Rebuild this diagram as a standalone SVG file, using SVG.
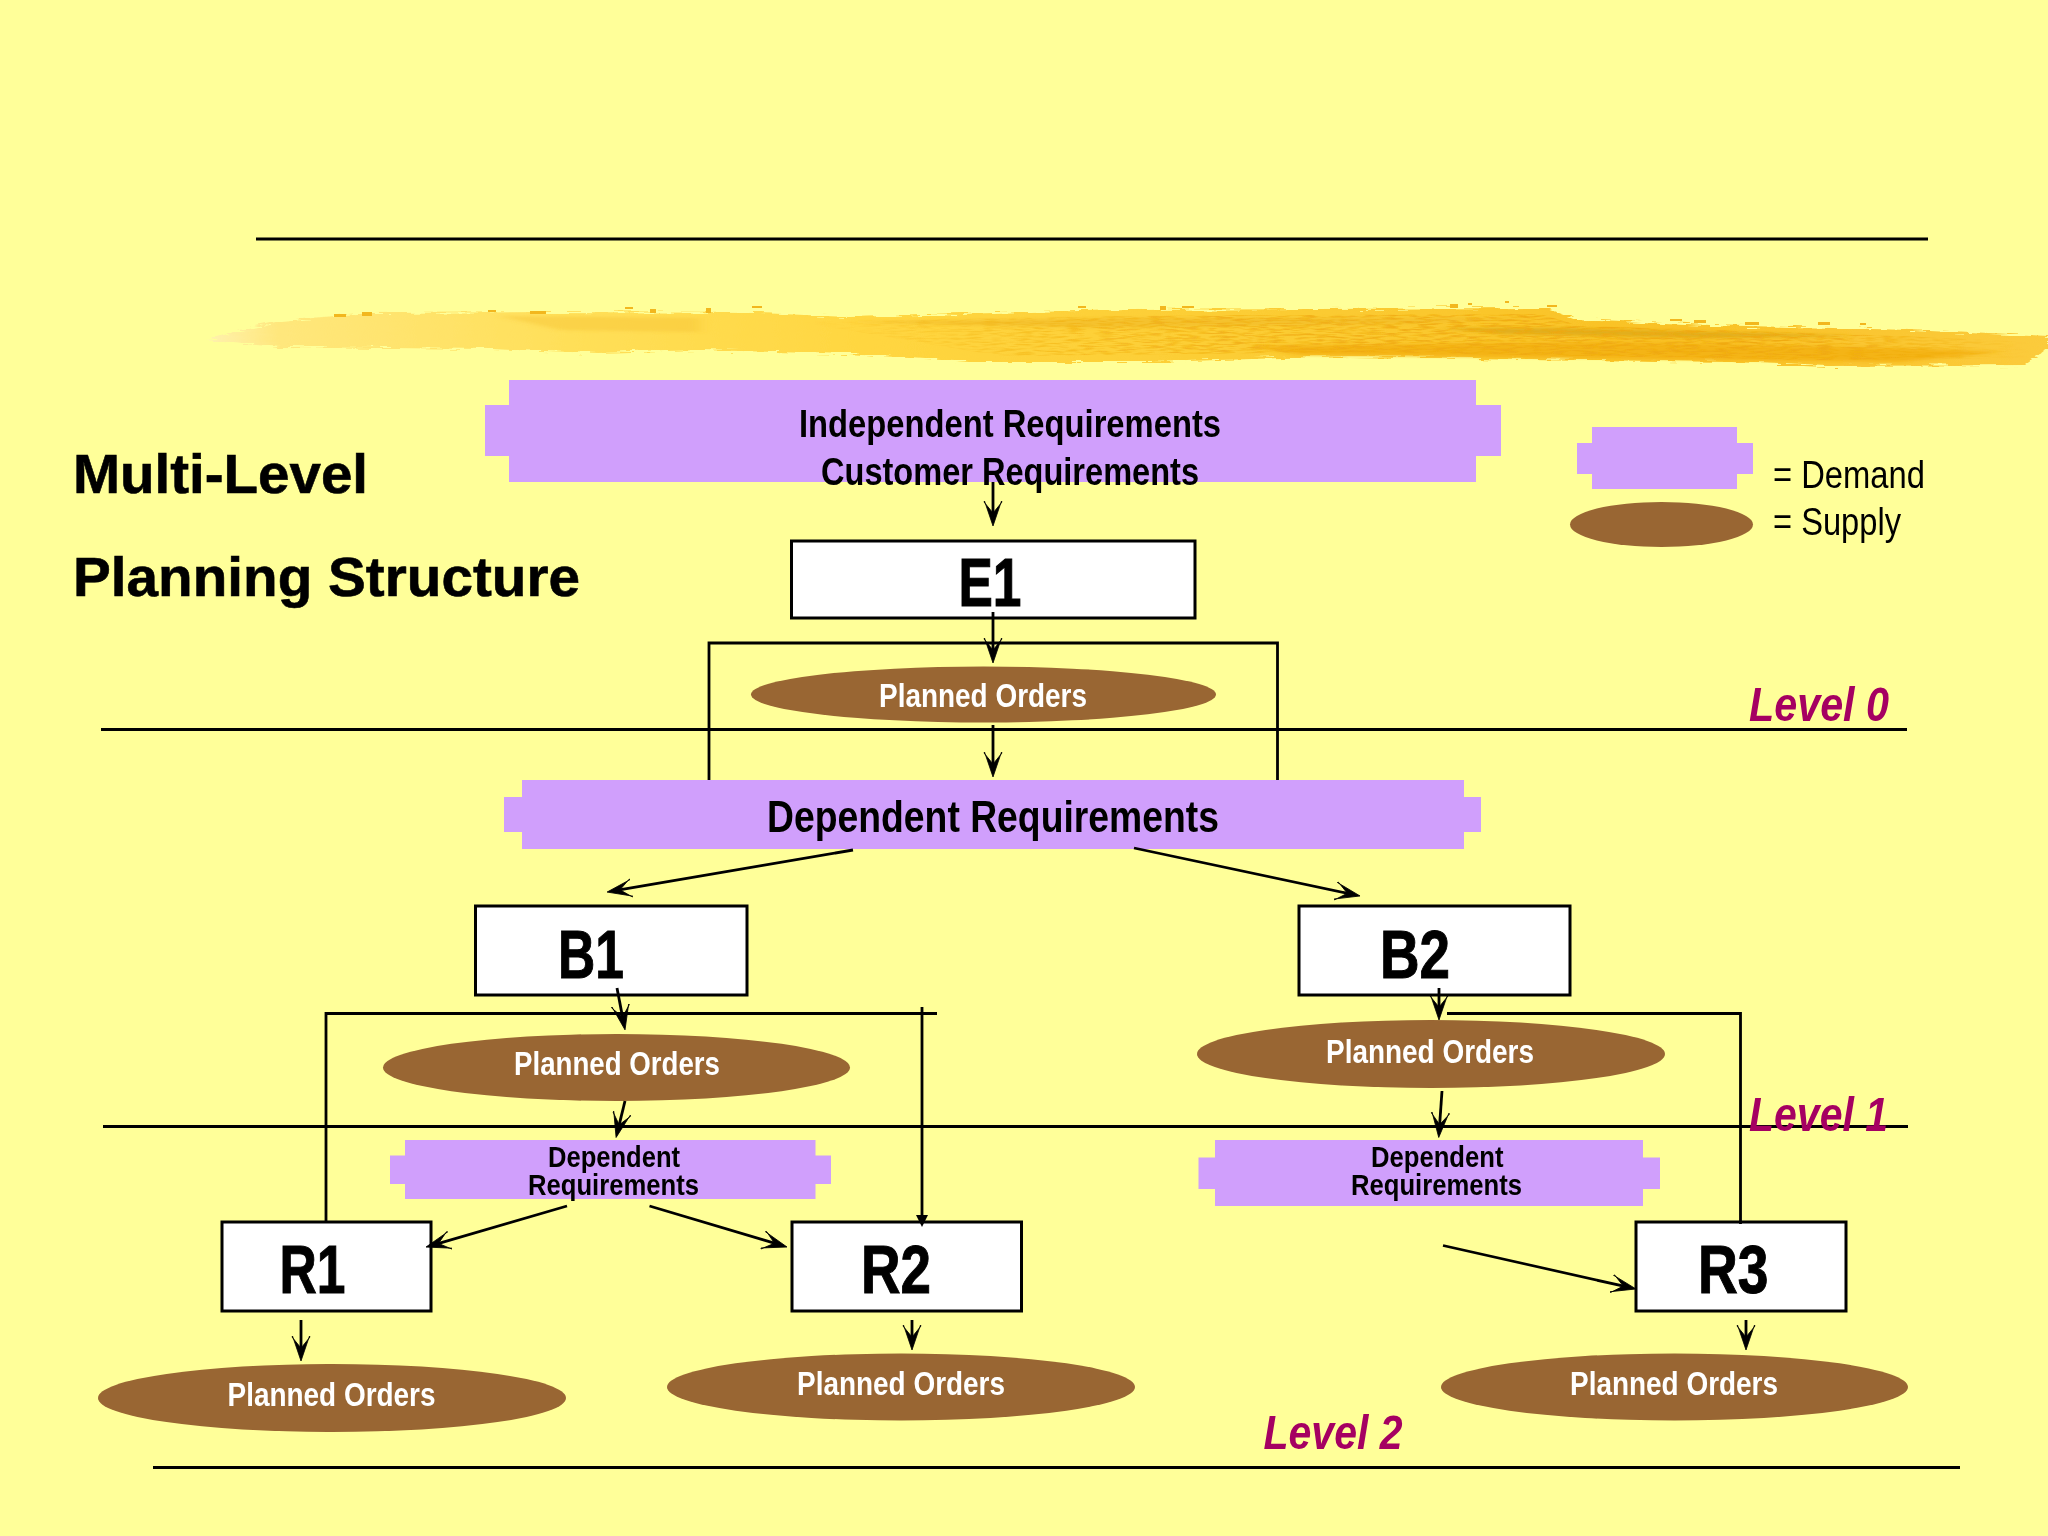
<svg xmlns="http://www.w3.org/2000/svg" width="2048" height="1536" viewBox="0 0 2048 1536">
<style>
text{font-family:"Liberation Sans",Arial,sans-serif;font-weight:700}
.heavy{stroke:#000;stroke-width:.6}
.demand{fill:#D09FFC}
.supply{fill:#996633}
.box{fill:#fff;stroke:#000;stroke-width:3}
.conn{fill:none;stroke:#000;stroke-width:2.8}
.arrow{fill:none;stroke:#000;stroke-width:2.8;marker-end:url(#head)}
.rule{fill:none;stroke:#000;stroke-width:3}
.po{fill:#fff;font-size:33px}
.lvl{fill:#A50062;font-size:48px;font-style:italic}
.code{fill:#000;font-size:68px;stroke:#000;stroke-width:1}
.req{fill:#000;font-size:29px}
</style>
<defs>
<marker id="head" markerUnits="userSpaceOnUse" markerWidth="30" markerHeight="22" refX="17" refY="11" orient="auto"><path d="M25 11L0 2.500L1 2L12 11L1 20L0 19.500Z" fill="#000" stroke="#000" stroke-width=".8"/></marker>
<marker id="tip" markerUnits="userSpaceOnUse" markerWidth="14" markerHeight="14" refX="6" refY="7" orient="auto"><path d="M12 7L0 1L0 13Z" fill="#000"/></marker>
<linearGradient id="brush" x1="0" x2="1" y1="0" y2="0">
<stop offset="0" stop-color="#FFF2B0"/><stop offset=".04" stop-color="#FFE77C"/><stop offset=".2" stop-color="#FFDF58"/><stop offset=".36" stop-color="#FFD640"/><stop offset=".6" stop-color="#FBCB32"/><stop offset=".8" stop-color="#F9C125"/><stop offset="1" stop-color="#FBCB3C"/>
</linearGradient>
<linearGradient id="fleck" x1="0" x2="1" y1="0" y2="0">
<stop offset="0" stop-color="#EFA80E" stop-opacity="0"/><stop offset=".35" stop-color="#EFA80E" stop-opacity=".7"/><stop offset=".8" stop-color="#EFA80E" stop-opacity=".9"/><stop offset="1" stop-color="#EFA80E" stop-opacity="0"/>
</linearGradient>
<filter id="rough" x="-2%" y="-30%" width="104%" height="160%"><feTurbulence type="fractalNoise" baseFrequency="0.04 0.4" numOctaves="3" seed="4"/><feDisplacementMap in="SourceGraphic" scale="9" xChannelSelector="R" yChannelSelector="G"/></filter>
<filter id="soft" x="-2%" y="-50%" width="104%" height="200%"><feGaussianBlur stdDeviation="6 1.5"/></filter>
<filter id="speckle" x="0" y="0" width="100%" height="100%"><feTurbulence type="fractalNoise" baseFrequency="0.06 0.55" numOctaves="2" seed="9" result="n"/><feColorMatrix in="n" type="matrix" values="0 0 0 0 0 0 0 0 0 0 0 0 0 0 0 3.500 0 0 0 -1.500" result="a"/><feComposite in="SourceGraphic" in2="a" operator="in"/></filter>
</defs>
<rect id="background" width="2048" height="1536" fill="#FFFF99"/>
<line class="rule" x1="256" y1="239" x2="1928" y2="239"/>
<g id="brush-stroke">
<path filter="url(#rough)" fill="url(#brush)" d="M205 340L250 328L283 321L334 316L370 313L550 312L760 313L850 317L1029 312L1130 310L1547 308L1576 319L1708 325L1911 330L2048 337V348L2025 365L1828 366L1732 362L1588 360L1349 356L1152 362L969 362L849 354L700 350L598 353L490 349L280 347L232 343Z"/>
<g filter="url(#soft)">
<path fill="#F4B415" d="M1250 346L1600 342L1900 348L2000 352L1900 362L1600 358L1300 355Z"/>
<path fill="#E2AE1A" d="M1440 328L1560 328L1760 333L1860 336L1700 338L1500 334Z"/>
<path fill="#F2BE2A" d="M850 322L1130 318L1540 318L1400 324L1100 328Z" opacity=".8"/>
<path fill="#F8C535" d="M500 316L700 318L700 332L560 330Z" opacity=".5"/>
</g>
<path filter="url(#speckle)" fill="url(#fleck)" d="M800 322L1130 316L1540 314L1580 326L1900 336L2030 342V358L1820 360L1588 356L1349 352L1000 356Z"/>
<g fill="#F2B71E"><rect x="334" y="314" width="12" height="3"/><rect x="362" y="312" width="10" height="4"/><rect x="488" y="310" width="8" height="2"/><rect x="530" y="311" width="16" height="3"/><rect x="625" y="307" width="8" height="2"/><rect x="650" y="309" width="6" height="4"/><rect x="706" y="308" width="5" height="5"/><rect x="752" y="306" width="10" height="2"/><rect x="1078" y="306" width="8" height="2"/><rect x="1160" y="306" width="6" height="4"/><rect x="1182" y="306" width="12" height="2"/><rect x="1450" y="304" width="8" height="4"/><rect x="1468" y="303" width="4" height="2"/><rect x="1505" y="301" width="4" height="2"/><rect x="1547" y="305" width="10" height="2"/><rect x="1670" y="319" width="12" height="2"/><rect x="1694" y="320" width="12" height="3"/><rect x="1745" y="322" width="14" height="3"/><rect x="1818" y="322" width="12" height="3"/><rect x="1860" y="323" width="6" height="2"/></g>
</g>
<g id="title">
<text class="heavy" x="73" y="493" font-size="56" textLength="295" lengthAdjust="spacingAndGlyphs">Multi-Level</text>
<text class="heavy" x="73" y="596" font-size="56" textLength="507" lengthAdjust="spacingAndGlyphs">Planning Structure</text>
</g>
<g id="independent-requirements">
<path class="demand" d="M509 380H1476V405H1501V456H1476V482H509V456H485V405H509Z"/>
<text x="799" y="437" font-size="38" textLength="422" lengthAdjust="spacingAndGlyphs">Independent Requirements</text>
<text x="821" y="485" font-size="38" textLength="378" lengthAdjust="spacingAndGlyphs">Customer Requirements</text>
</g>
<g id="legend-demand">
<path class="demand" d="M1592 427H1737V443H1753V474H1737V489H1592V474H1577V443H1592Z"/>
<text x="1773" y="488" font-size="38" style="font-weight:400" textLength="152" lengthAdjust="spacingAndGlyphs">= Demand</text>
</g>
<g id="legend-supply">
<ellipse class="supply" cx="1661.500" cy="524.500" rx="91.500" ry="22.500"/>
<text x="1773" y="535" font-size="38" style="font-weight:400" textLength="128" lengthAdjust="spacingAndGlyphs">= Supply</text>
</g>
<g id="E1">
<rect class="box" x="791.500" y="541" width="403.500" height="77"/>
<text class="code" x="958.500" y="606" textLength="63" lengthAdjust="spacingAndGlyphs">E1</text>
</g>
<g id="planned-orders-E1">
<ellipse class="supply" cx="983.500" cy="694.500" rx="232.500" ry="28"/>
<text class="po" x="879" y="707" textLength="208" lengthAdjust="spacingAndGlyphs">Planned Orders</text>
</g>
<g id="dependent-requirements">
<path class="demand" d="M522 780H1464V797H1481V832H1464V849H522V832H504V797H522Z"/>
<text x="767" y="832" font-size="44" textLength="452" lengthAdjust="spacingAndGlyphs">Dependent Requirements</text>
</g>
<g id="B1">
<rect class="box" x="475.500" y="906" width="271.500" height="89"/>
<text class="code" x="558" y="978" textLength="66" lengthAdjust="spacingAndGlyphs">B1</text>
</g>
<g id="B2">
<rect class="box" x="1299" y="906" width="271" height="89"/>
<text class="code" x="1380" y="978" textLength="70" lengthAdjust="spacingAndGlyphs">B2</text>
</g>
<g id="planned-orders-B1">
<ellipse class="supply" cx="616.500" cy="1067.500" rx="233.500" ry="33.500"/>
<text class="po" x="514" y="1075" textLength="206" lengthAdjust="spacingAndGlyphs">Planned Orders</text>
</g>
<g id="planned-orders-B2">
<ellipse class="supply" cx="1431" cy="1054" rx="234" ry="34"/>
<text class="po" x="1326" y="1063" textLength="208" lengthAdjust="spacingAndGlyphs">Planned Orders</text>
</g>
<g id="dependent-requirements-B1">
<path class="demand" d="M405 1140H815.500V1155.500H831V1184H815.500V1199H405V1184H390V1155.500H405Z"/>
<text class="req" x="548" y="1167" textLength="132" lengthAdjust="spacingAndGlyphs">Dependent</text>
<text class="req" x="528" y="1194.500" textLength="171" lengthAdjust="spacingAndGlyphs">Requirements</text>
</g>
<g id="dependent-requirements-B2">
<path class="demand" d="M1215 1140H1643V1157.500H1660V1189H1643V1206H1215V1189H1198.500V1157.500H1215Z"/>
<text class="req" x="1371" y="1167" textLength="132.500" lengthAdjust="spacingAndGlyphs">Dependent</text>
<text class="req" x="1351" y="1194.500" textLength="171" lengthAdjust="spacingAndGlyphs">Requirements</text>
</g>
<g id="R1">
<rect class="box" x="222" y="1222" width="209" height="89"/>
<text class="code" x="279.500" y="1293" textLength="66" lengthAdjust="spacingAndGlyphs">R1</text>
</g>
<g id="R2">
<rect class="box" x="792" y="1222" width="229.500" height="89"/>
<text class="code" x="861" y="1293" textLength="70" lengthAdjust="spacingAndGlyphs">R2</text>
</g>
<g id="R3">
<rect class="box" x="1636" y="1222" width="210" height="89"/>
<text class="code" x="1698" y="1293" textLength="70.500" lengthAdjust="spacingAndGlyphs">R3</text>
</g>
<g id="planned-orders-R1">
<ellipse class="supply" cx="332" cy="1398" rx="234" ry="34"/>
<text class="po" x="227.500" y="1406" textLength="208" lengthAdjust="spacingAndGlyphs">Planned Orders</text>
</g>
<g id="planned-orders-R2">
<ellipse class="supply" cx="901" cy="1387" rx="234" ry="33.500"/>
<text class="po" x="797" y="1395" textLength="208" lengthAdjust="spacingAndGlyphs">Planned Orders</text>
</g>
<g id="planned-orders-R3">
<ellipse class="supply" cx="1674.500" cy="1387" rx="233.500" ry="33.500"/>
<text class="po" x="1570" y="1395" textLength="208" lengthAdjust="spacingAndGlyphs">Planned Orders</text>
</g>
<g id="level-rules">
<line class="rule" x1="101" y1="729.500" x2="1907" y2="729.500"/>
<line class="rule" x1="103" y1="1126.500" x2="1908" y2="1126.500"/>
<line class="rule" x1="153" y1="1467.500" x2="1960" y2="1467.500"/>
</g>
<g id="connectors">
<line class="arrow" x1="993" y1="482" x2="993" y2="518"/>
<line class="arrow" x1="993" y1="612" x2="993" y2="655"/>
<line class="arrow" x1="993" y1="725" x2="993" y2="769"/>
<path class="conn" d="M709 780V643H1277.500V780"/>
<line class="arrow" x1="853" y1="850" x2="615" y2="890.700"/>
<line class="arrow" x1="1134" y1="848" x2="1352.200" y2="894.300"/>
<line class="arrow" x1="617" y1="988" x2="623.500" y2="1022"/>
<line class="arrow" x1="625" y1="1101" x2="618" y2="1129.700"/>
<path class="conn" d="M326 1222V1013.500H937"/>
<line class="conn" x1="922" y1="1007" x2="922" y2="1221" marker-end="url(#tip)"/>
<line class="arrow" x1="567" y1="1206" x2="433.700" y2="1244.800"/>
<line class="arrow" x1="649.500" y1="1206" x2="779.300" y2="1244.700"/>
<line class="arrow" x1="301" y1="1320" x2="301" y2="1353"/>
<line class="arrow" x1="912" y1="1320" x2="912" y2="1342"/>
<line class="arrow" x1="1439" y1="988" x2="1439" y2="1012"/>
<path class="conn" d="M1447 1013.500H1740.500V1224"/>
<line class="arrow" x1="1442" y1="1091" x2="1439.300" y2="1129.500"/>
<line class="arrow" x1="1443" y1="1245.500" x2="1628.200" y2="1287.200"/>
<line class="arrow" x1="1746" y1="1320" x2="1746" y2="1342"/>
</g>
<g id="level-labels">
<text class="lvl" x="1749" y="721" textLength="140" lengthAdjust="spacingAndGlyphs">Level 0</text>
<text class="lvl" x="1749" y="1130.500" textLength="139" lengthAdjust="spacingAndGlyphs">Level 1</text>
<text class="lvl" x="1263.500" y="1449" textLength="139" lengthAdjust="spacingAndGlyphs">Level 2</text>
</g>
</svg>
